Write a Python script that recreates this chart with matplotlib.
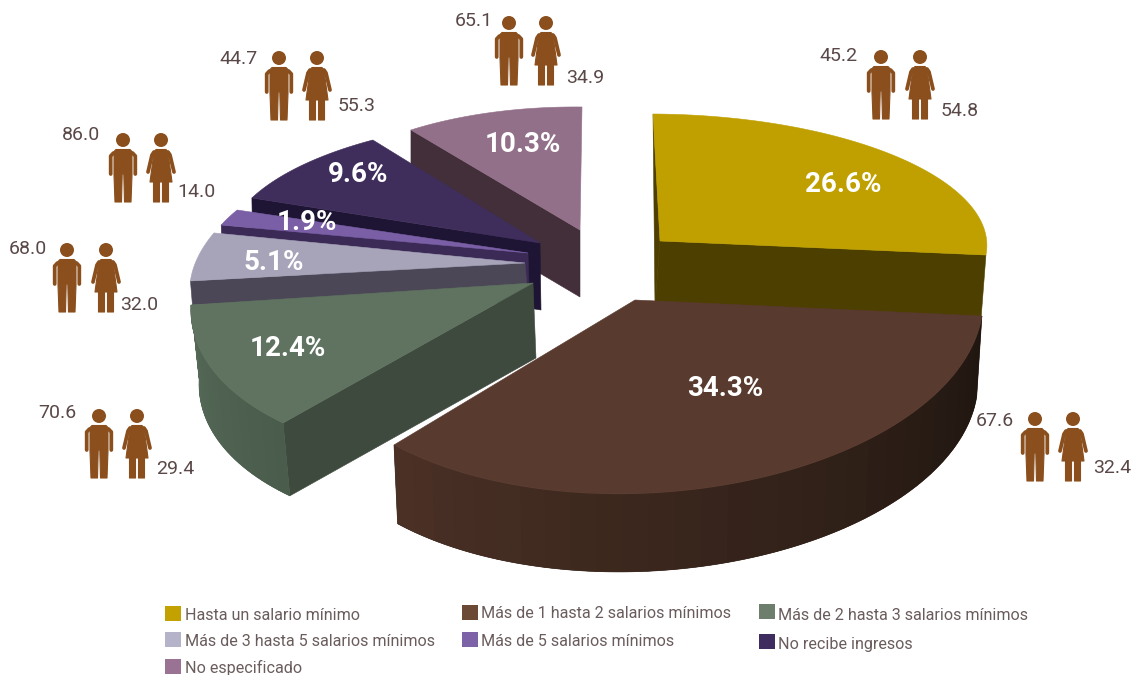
import numpy as np
import matplotlib
matplotlib.use("Agg")
import matplotlib.pyplot as plt
from matplotlib.collections import PolyCollection
from matplotlib.patches import Circle, Polygon, Rectangle

# ---- data ----
categories = ["Hasta un salario mínimo", "Más de 1 hasta 2 salarios mínimos",
              "Más de 2 hasta 3 salarios mínimos", "Más de 3 hasta 5 salarios mínimos",
              "Más de 5 salarios mínimos", "No recibe ingresos", "No especificado"]
shares = [26.6, 34.3, 12.4, 5.1, 1.9, 9.6, 10.3]
men = [45.2, 67.6, 70.6, 68.0, 86.0, 44.7, 65.1]
women = [54.8, 32.4, 29.4, 32.0, 14.0, 55.3, 34.9]

# ---- styling ----
top_colors = ["#bfa000", "#593a2f", "#5f7360", "#a7a4ba", "#7a5fa6", "#3f2d5c", "#93708a"]
cut_colors = ["#4d3f00", "#4a3025", "#3f4a3e", "#4b4756", "#3a2a55", "#1e1433", "#432f3a"]
rim_left = ["#4d3f00", "#4a3025", "#566a58", "#4b4756", "#3a2a55", "#1e1433", "#432f3a"]
rim_right = ["#4d3f00", "#1f1610", "#4a5c4c", "#4b4756", "#3a2a55", "#1e1433", "#432f3a"]
legend_colors = ["#c2a100", "#6b4a35", "#6d7f6c", "#b4b3c9", "#7d62a8", "#3f2d5f", "#9a7294"]
ICON = "#8b4f1e"
TXT = "#5a4848"

# per-slice projection of the tilted, exploded disc: apex, U, V, depth, bottom scale, bulge
apex = [(660, 241), (635, 300), (533, 283), (525, 263), (528, 253), (540, 243), (580, 230)]
u_vec = [(326.8, 1.7), (351.2, -1.9), (338.7, -1.3), (329.9, -0.5), (324, 1.5), (312.6, 5.8), (283.5, 3)]
v_vec = [(-7, -127), (26.9, -184.5), (48.4, -178.6), (59.4, -150.9), (51.8, -131), (26.3, -124.6), (2, -123)]
depth = [(-5, 65), (0, 81), (3, 75), (2, 24), (1, 30), (1, 67), (0, 67)]
bottom_scale = [1, .985, .985, 1, 1, 1, 1]
bulge = [0, .06, 0, 0, 0, 0, 0]
label_pos = [(843, 185), (725, 389), (288, 349), (274, 262), (307, 222), (358, 175), (523, 144)]

# icon groups: man x, woman x, head y; labels for men and women
man_x = [881, 1035, 99, 67, 123, 279, 509]
woman_x = [920, 1073, 137, 106, 161, 317, 546]
head_y = [57, 419, 416, 250, 140, 58, 23]
men_lab = [(839, 56), (995, 421), (57, 413), (28, 249), (81, 135), (239, 59), (474, 21)]
women_lab = [(960, 111), (1112, 468), (175, 469), (139, 305), (196, 192), (357, 106), (585, 78)]

legend_sq = [(165, 606), (462, 605), (759, 604), (165, 632), (462, 632), (759, 634), (165, 659)]
legend_tx = [(185, 615), (481, 614), (778, 615), (185, 641), (481, 641), (778, 645), (185, 668)]

fig = plt.figure(figsize=(11.33, 6.75), dpi=100, facecolor="white")
ax = fig.add_axes([0, 0, 1, 1])
ax.set_xlim(0, 1133)
ax.set_ylim(675, 0)
ax.axis("off")

total = sum(shares)
cum = np.concatenate([[0], np.cumsum(shares)])
theta0 = np.radians(90 - 360 * cum[:-1] / total)
theta1 = np.radians(90 - 360 * cum[1:] / total)


def arc(i, scale=1.0, n=121):
    t = np.linspace(0, 1, n)
    th = theta0[i] + (theta1[i] - theta0[i]) * t
    r = scale * (1 + bulge[i] * np.sin(np.pi * t))
    U, V = np.array(u_vec[i]), np.array(v_vec[i])
    return (np.outer(r * np.cos(th), U) + np.outer(r * np.sin(th), V))


def lerp(a, b, t):
    ca, cb = np.array(matplotlib.colors.to_rgb(a)), np.array(matplotlib.colors.to_rgb(b))
    return tuple(ca + (cb - ca) * t)


def draw_slice(i, z, faces):
    A = np.array(apex[i], float)
    D = np.array(depth[i], float)
    top = A + arc(i)
    bot = A + D + arc(i, bottom_scale[i])
    if "start" in faces:
        ax.add_patch(Polygon([A, top[0], bot[0], A + D], fc=cut_colors[i], ec=cut_colors[i], lw=.4, zorder=z))
    if "end" in faces:
        ax.add_patch(Polygon([A, top[-1], bot[-1], A + D], fc=cut_colors[i], ec=cut_colors[i], lw=.4, zorder=z))
    if "sliver" in faces:
        ax.add_patch(Polygon([top[0], A, A + D], fc=cut_colors[i], ec=cut_colors[i], lw=.4, zorder=z))
    if "rim" in faces:
        # outer rim shaded along the arc; wide strips clipped to the rim outline
        step = 4
        quads = [[top[k], top[k + step], bot[k + step], bot[k]] for k in range(0, len(top) - step, step)]
        n = len(quads)
        left_first = top[0][0] < top[-1][0]
        cols = [lerp(rim_left[i], rim_right[i], (k / (n - 1)) if left_first else 1 - k / (n - 1)) for k in range(n)]
        outline = Polygon(np.vstack([top, bot[::-1]]), fc=cols[n // 2], ec=cols[n // 2], lw=.4, zorder=z)
        ax.add_patch(outline)
        pc = PolyCollection(quads, facecolors=cols, edgecolors=cols, linewidths=1.5, zorder=z)
        ax.add_collection(pc)
        pc.set_clip_path(outline)
    ax.add_patch(Polygon(np.vstack([A, top]), fc=top_colors[i], ec=top_colors[i], lw=.4, zorder=z + .5))


order_faces = {6: ("start",), 5: ("start",), 4: ("start",), 3: ("start",),
               2: ("start", "rim"), 0: ("sliver", "end"), 1: ("rim",)}
for z, i in enumerate([6, 5, 4, 3, 2, 0, 1]):
    draw_slice(i, 2 + z, order_faces[i])

for s, (x, y) in zip(shares, label_pos):
    ax.text(x, y, f"{s:.1f}%", color="white", family="Roboto", weight="bold", fontsize=20,
            ha="center", va="center", zorder=20)

# pictograms: shapes relative to the centre of the head
man_body = [(-7, 9.5), (7, 9.5), (9, 11.5), (9, 35), (8, 62), (1.5, 62), (0.8, 34),
            (-0.8, 34), (-1.5, 62), (-8, 62), (-9, 35), (-9, 11.5)]
man_arms = [((9.5, 13), (12.3, 16), (12.3, 34)), ((-9.5, 13), (-12.3, 16), (-12.3, 34))]
woman_body = [(-5, 9.5), (5, 9.5), (7, 12), (11, 42), (7.5, 42), (7.5, 62), (1.5, 62), (1.5, 42),
              (-1.5, 42), (-1.5, 62), (-7.5, 62), (-7.5, 42), (-11, 42), (-7, 12)]
woman_arms = [((7, 12), (9, 15), (13, 32)), ((-7, 12), (-9, 15), (-13, 32))]


def person(body, arms, x, y):
    ax.add_patch(Polygon(np.array(body) + [x, y], fc=ICON, ec=ICON, lw=.8, joinstyle="round", zorder=10))
    for arm in arms:
        a = np.array(arm) + [x, y]
        ax.plot(a[:, 0], a[:, 1], color=ICON, lw=2.7, solid_capstyle="round", solid_joinstyle="round", zorder=10)
    ax.add_patch(Circle((x, y), 7, fc=ICON, ec="none", zorder=10))


for i in range(len(men)):
    person(man_body, man_arms, man_x[i], head_y[i])
    person(woman_body, woman_arms, woman_x[i], head_y[i])
    ax.text(*men_lab[i], f"{men[i]:.1f}", color=TXT, family="Roboto", fontsize=14, ha="center", va="center")
    ax.text(*women_lab[i], f"{women[i]:.1f}", color=TXT, family="Roboto", fontsize=14, ha="center", va="center")

for name, col, sq, tx in zip(categories, legend_colors, legend_sq, legend_tx):
    ax.add_patch(Rectangle(sq, 16, 15, fc=col, ec="none"))
    ax.text(*tx, name, color="#6a5c5c", family="Roboto", fontsize=11.6, ha="left", va="center")

fig.savefig("out.png", dpi=100)
